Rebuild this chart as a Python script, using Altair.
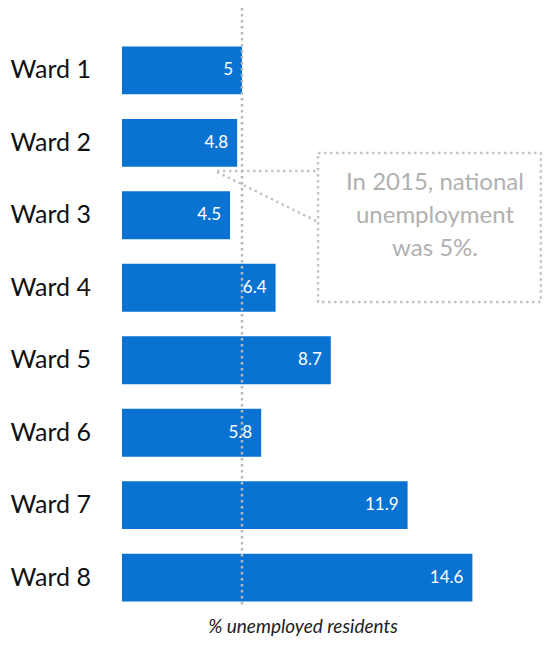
import altair as alt
import pandas as pd

# ---- data ----
wards = ["Ward 1", "Ward 2", "Ward 3", "Ward 4", "Ward 5", "Ward 6", "Ward 7", "Ward 8"]
rates = [5, 4.8, 4.5, 6.4, 8.7, 5.8, 11.9, 14.6]
labels = ["5", "4.8", "4.5", "6.4", "8.7", "5.8", "11.9", "14.6"]
national_rate = [5]
callout_lines = ["In 2015, national", "unemployment", "was 5%."]
axis_title = "% unemployed residents"

BLUE = "#0a73d2"
GRAY = "#b8b8b8"
FONT = "Lato"
XMAX = 421 / 24

df = pd.DataFrame({"ward": wards, "rate": rates, "label": labels})

xscale = alt.Scale(domain=[0, XMAX], nice=False, zero=True)

base = alt.Chart(df)

bars = base.mark_bar(color=BLUE).encode(
    x=alt.X("rate:Q", scale=xscale, axis=None),
    y=alt.Y(
        "ward:N",
        sort=wards,
        scale=alt.Scale(paddingInner=0.34, paddingOuter=0.53),
        axis=alt.Axis(
            title=None, domain=False, ticks=False, tickSize=0, grid=False,
            labelAlign="left", labelPadding=112, labelFontSize=25,
            labelFont=FONT, labelColor="#111111", labelBaseline="middle",
        ),
    ),
)

values = base.mark_text(
    align="right", baseline="middle", dx=-9, color="white", fontSize=17, font=FONT
).encode(
    x=alt.X("rate:Q", scale=xscale, axis=None),
    y=alt.Y("ward:N", sort=wards),
    text="label:N",
)

rule = alt.Chart(pd.DataFrame({"v": national_rate})).mark_rule(
    color=GRAY, strokeDash=[2.5, 3.5], strokeWidth=2.5
).encode(
    x=alt.X("v:Q", scale=xscale, axis=None),
    y=alt.value(0),
    y2=alt.value(600),
)

# callout box (x in data units, y in pixels)
box_df = pd.DataFrame({"x0": [8.17], "x1": [17.45]})
box = alt.Chart(box_df).mark_rect(
    fill="white", stroke="#c4c4c4", strokeWidth=2.5, strokeDash=[2.5, 3.5]
).encode(
    x=alt.X("x0:Q", scale=xscale, axis=None),
    x2="x1:Q",
    y=alt.value(145),
    y2=alt.value(294),
)

conn_df = pd.DataFrame({"x0": [3.96, 3.96], "x1": [8.17, 8.17], "y0": [163, 164], "y1": [163, 214]})
connectors = alt.Chart(conn_df).mark_rule(
    color="#c4c4c4", strokeWidth=2.5, strokeDash=[2.5, 3.5]
).encode(
    x=alt.X("x0:Q", scale=xscale, axis=None),
    x2="x1:Q",
    y=alt.Y("y0:Q", scale=None, axis=None),
    y2="y1:Q",
)

callout = alt.Chart(pd.DataFrame({"t": [callout_lines]})).mark_text(
    align="center", baseline="middle", lineHeight=33, fontSize=24,
    color="#b0b0b0", font=FONT
).encode(
    text="t",
    x=alt.value(313),
    y=alt.value(175),
)

title = alt.Chart(pd.DataFrame({"t": [axis_title]})).mark_text(
    fontStyle="italic", fontSize=19, color="#222222", font=FONT,
    align="center", baseline="middle"
).encode(
    text="t:N",
    x=alt.value(181),
    y=alt.value(619),
)

chart = alt.layer(bars, connectors, box, callout, rule, values, title).properties(
    width=421,
    height=632,
    autosize=alt.AutoSizeParams(type="none"),
    padding={"left": 114, "top": 0, "right": 0, "bottom": 0},
).configure(background="white").configure_view(stroke=None)

chart.save("out.html", embed_options={"renderer": "svg", "actions": False})
